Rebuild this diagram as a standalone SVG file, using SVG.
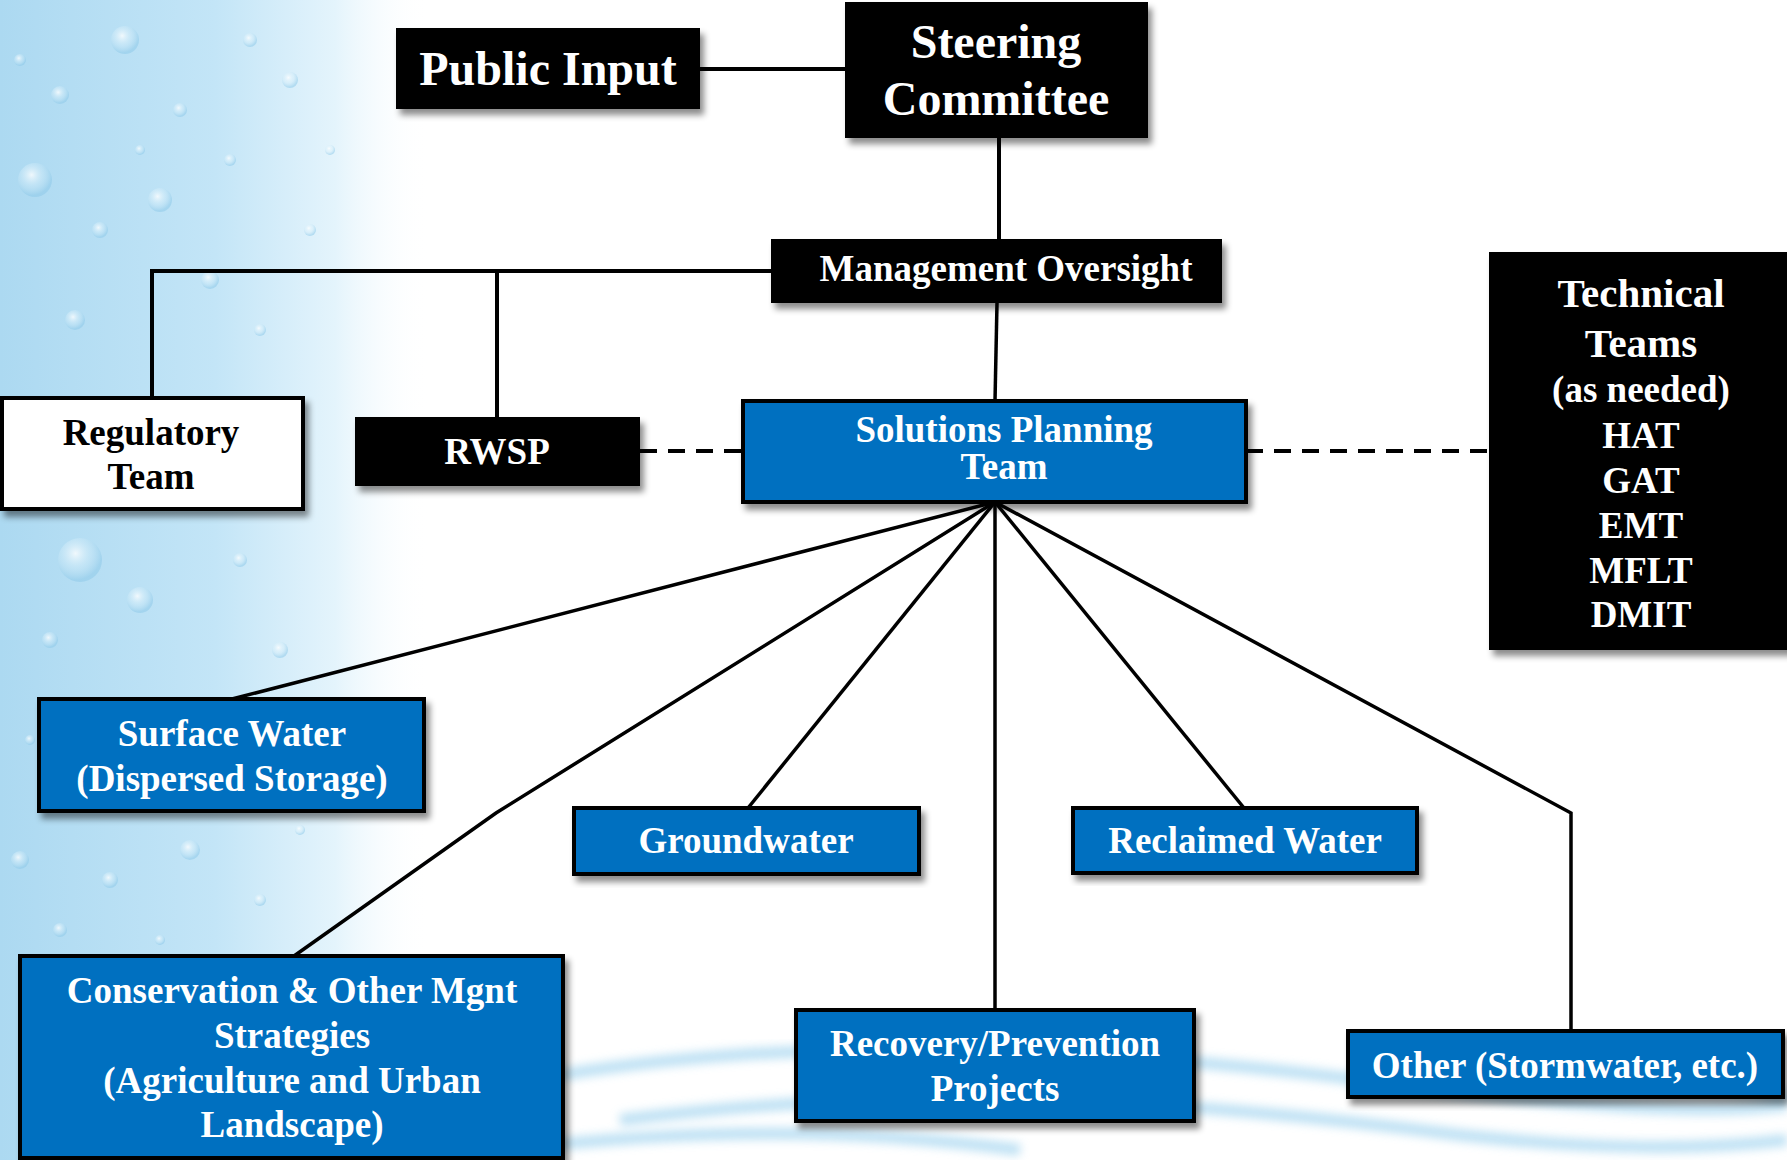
<svg xmlns="http://www.w3.org/2000/svg" width="1787" height="1160" viewBox="0 0 1787 1160">
<defs>
<linearGradient id="leftBg" x1="0" y1="0" x2="1" y2="0">
<stop offset="0" stop-color="#acd9f1"/>
<stop offset="0.5" stop-color="#c3e5f7"/>
<stop offset="0.78" stop-color="#e4f4fc"/>
<stop offset="1" stop-color="#ffffff" stop-opacity="0"/>
</linearGradient>
<radialGradient id="bottomBg" cx="0.5" cy="1" r="0.6">
<stop offset="0" stop-color="#b2dbf1"/>
<stop offset="0.6" stop-color="#d6edf9"/>
<stop offset="1" stop-color="#ffffff" stop-opacity="0"/>
</radialGradient>
<filter id="shadow" x="-10%" y="-10%" width="120%" height="130%">
<feDropShadow dx="4" dy="6" stdDeviation="3" flood-color="#000" flood-opacity="0.45"/>
</filter>
<filter id="blur"><feGaussianBlur stdDeviation="5"/></filter>
<radialGradient id="drop" cx="0.4" cy="0.35" r="0.6">
<stop offset="0" stop-color="#ffffff" stop-opacity="0.8"/>
<stop offset="0.55" stop-color="#d8effa" stop-opacity="0.35"/>
<stop offset="1" stop-color="#8cc8e8" stop-opacity="0.5"/>
</radialGradient>
</defs>
<style>
.blk{fill:#000;filter:url(#shadow)}
.blu{fill:#0070c0;stroke:#000;stroke-width:4;filter:url(#shadow)}
.wht{fill:#fff;stroke:#000;stroke-width:4;filter:url(#shadow)}
.t{font-family:"Liberation Serif","Times New Roman",serif;font-weight:bold;fill:#fff;text-anchor:middle;font-size:37px}
.tk{fill:#000}
.big{font-size:48px}
.mid{font-size:41px}
.ln{stroke:#000;stroke-width:4;fill:none}
.fan{stroke:#000;stroke-width:3.5;fill:none}
.dash{stroke:#000;stroke-width:4;stroke-dasharray:17 11;fill:none}
.d{fill:url(#drop)}
</style>
<rect x="0" y="0" width="1787" height="1160" fill="#fff"/>
<rect x="0" y="0" width="430" height="1160" fill="url(#leftBg)"/>
<g id="droplets">
<circle class="d" cx="125" cy="40" r="14"/><circle class="d" cx="60" cy="95" r="9"/><circle class="d" cx="180" cy="110" r="7"/>
<circle class="d" cx="35" cy="180" r="17"/><circle class="d" cx="100" cy="230" r="8"/><circle class="d" cx="160" cy="200" r="12"/>
<circle class="d" cx="230" cy="160" r="6"/><circle class="d" cx="210" cy="280" r="9"/><circle class="d" cx="75" cy="320" r="10"/>
<circle class="d" cx="140" cy="600" r="13"/><circle class="d" cx="50" cy="640" r="8"/><circle class="d" cx="240" cy="560" r="7"/>
<circle class="d" cx="80" cy="560" r="22"/><circle class="d" cx="20" cy="860" r="9"/><circle class="d" cx="110" cy="880" r="8"/>
<circle class="d" cx="190" cy="850" r="10"/><circle class="d" cx="260" cy="900" r="6"/><circle class="d" cx="60" cy="930" r="7"/>
<circle class="d" cx="290" cy="80" r="8"/><circle class="d" cx="310" cy="230" r="6"/><circle class="d" cx="280" cy="650" r="8"/>
<circle class="d" cx="20" cy="60" r="6"/><circle class="d" cx="250" cy="40" r="7"/><circle class="d" cx="140" cy="150" r="5"/>
<circle class="d" cx="260" cy="330" r="6"/><circle class="d" cx="30" cy="420" r="5"/><circle class="d" cx="190" cy="720" r="6"/>
<circle class="d" cx="110" cy="770" r="9"/><circle class="d" cx="30" cy="740" r="5"/><circle class="d" cx="300" cy="830" r="5"/>
<circle class="d" cx="160" cy="940" r="5"/><circle class="d" cx="220" cy="480" r="5"/><circle class="d" cx="330" cy="150" r="5"/>
</g>
<g id="ripples">
<ellipse cx="1150" cy="1240" rx="800" ry="240" fill="url(#bottomBg)" opacity="0.9"/>
<g filter="url(#blur)" fill="none" stroke="#b3dcf2" stroke-width="12" opacity="0.85">
<path d="M560 1075 C800 1035 1100 1045 1400 1085 C1550 1105 1700 1115 1787 1105"/>
<path d="M620 1120 C900 1085 1150 1095 1460 1135 C1600 1150 1700 1150 1787 1140"/>
<path d="M1430 1055 C1600 1065 1700 1085 1787 1095"/>
<path d="M500 1150 C700 1128 850 1128 1020 1150"/>
</g>
</g>
<g id="connectors">
<line class="ln" x1="700" y1="69" x2="845" y2="69"/>
<line class="ln" x1="999" y1="138" x2="999" y2="239"/>
<path class="ln" d="M771 271 H152 V398"/>
<line class="ln" x1="497" y1="271" x2="497" y2="417"/>
<line class="fan" x1="997" y1="303" x2="995" y2="401"/>
<line class="dash" x1="640" y1="451" x2="743" y2="451"/>
<line class="dash" x1="1246" y1="451" x2="1489" y2="451"/>
<line class="fan" x1="995" y1="502" x2="232" y2="699"/>
<path class="fan" d="M995 502 L496 813 L294 956"/>
<line class="fan" x1="995" y1="502" x2="748" y2="808"/>
<line class="fan" x1="995" y1="502" x2="995" y2="1010"/>
<line class="fan" x1="995" y1="502" x2="1244" y2="808"/>
<path class="fan" d="M995 502 L1571 813 V1031"/>
</g>
<g id="public-input"><rect class="blk" x="396" y="28" width="304" height="81"/><text class="t big" x="548" y="85">Public Input</text></g>
<g id="steering-committee"><rect class="blk" x="845" y="2" width="303" height="136"/><text class="t big" x="996" y="58">Steering</text><text class="t big" x="996" y="115">Committee</text></g>
<g id="management-oversight"><rect class="blk" x="771" y="239" width="451" height="64"/><text class="t" x="1006" y="281">Management Oversight</text></g>
<g id="regulatory-team"><rect class="wht" x="2" y="398" width="301" height="111"/><text class="t tk" x="151" y="445">Regulatory</text><text class="t tk" x="151" y="489">Team</text></g>
<g id="rwsp"><rect class="blk" x="355" y="417" width="285" height="69"/><text class="t" x="497" y="464">RWSP</text></g>
<g id="solutions-planning-team"><rect class="blu" x="743" y="401" width="503" height="101"/><text class="t" x="1004" y="442">Solutions Planning</text><text class="t" x="1004" y="479">Team</text></g>
<g id="technical-teams"><rect class="blk" x="1489" y="252" width="310" height="398"/>
<text class="t mid" x="1641" y="307">Technical</text><text class="t mid" x="1641" y="357">Teams</text>
<text class="t" x="1641" y="402">(as needed)</text><text class="t" x="1641" y="448">HAT</text><text class="t" x="1641" y="493">GAT</text>
<text class="t" x="1641" y="538">EMT</text><text class="t" x="1641" y="583">MFLT</text><text class="t" x="1641" y="627">DMIT</text></g>
<g id="surface-water"><rect class="blu" x="39" y="699" width="385" height="112"/><text class="t" x="232" y="746">Surface Water</text><text class="t" x="232" y="791">(Dispersed Storage)</text></g>
<g id="conservation"><rect class="blu" x="20" y="956" width="543" height="202"/>
<text class="t" x="292" y="1003">Conservation &amp; Other Mgnt</text><text class="t" x="292" y="1048">Strategies</text>
<text class="t" x="292" y="1093">(Agriculture and Urban</text><text class="t" x="292" y="1137">Landscape)</text></g>
<g id="groundwater"><rect class="blu" x="574" y="808" width="345" height="66"/><text class="t" x="746" y="853">Groundwater</text></g>
<g id="reclaimed-water"><rect class="blu" x="1073" y="808" width="344" height="65"/><text class="t" x="1245" y="853">Reclaimed Water</text></g>
<g id="recovery-prevention"><rect class="blu" x="796" y="1010" width="398" height="111"/><text class="t" x="995" y="1056">Recovery/Prevention</text><text class="t" x="995" y="1101">Projects</text></g>
<g id="other"><rect class="blu" x="1348" y="1031" width="435" height="66"/><text class="t" x="1565" y="1078">Other (Stormwater, etc.)</text></g>
</svg>
